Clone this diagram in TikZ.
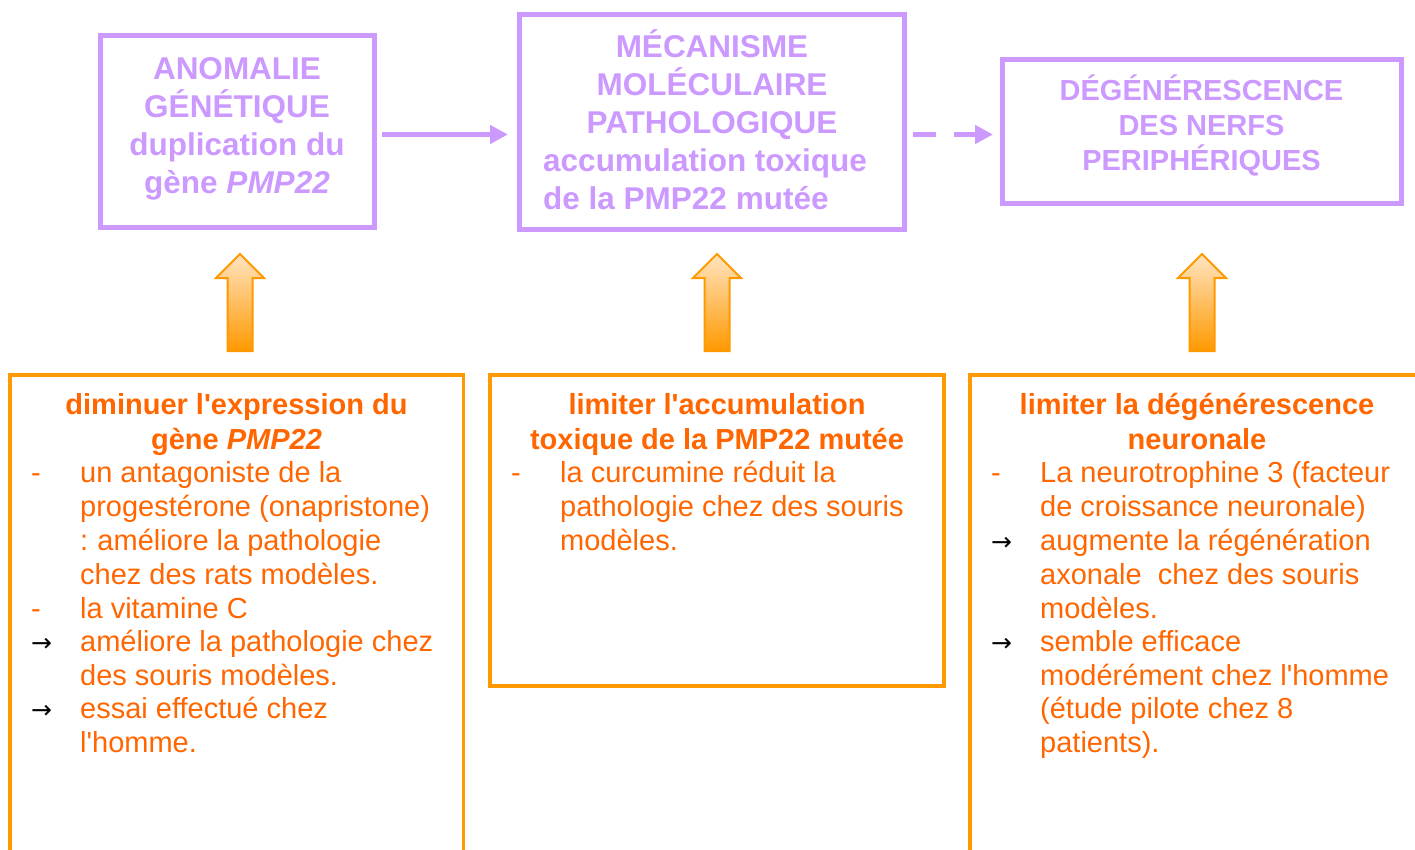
\documentclass[tikz,border=0pt]{standalone}
\usepackage{fontspec}
\setmainfont{Liberation Sans}
\newfontfamily\arrowfont{DejaVu Sans}
\usetikzlibrary{arrows.meta}
\definecolor{pur}{HTML}{CC99FF}
\definecolor{orb}{HTML}{FF9900}
\definecolor{ort}{HTML}{FF6600}
\definecolor{orl}{HTML}{FFE4C0}
\newcommand\ap{\textquotesingle}
\begin{document}
\begin{tikzpicture}[x=1pt,y=-1pt,
  pbox/.style={draw=pur,line width=5pt,inner sep=0pt},
  ptxt/.style={text=pur,inner sep=0pt,anchor=base,font=\bfseries\fontsize{31.5}{38}\selectfont},
  ptxtS/.style={text=pur,inner sep=0pt,anchor=base,font=\bfseries\fontsize{29}{35}\selectfont},
  obox/.style={draw=orb,line width=3.5pt},
  ohead/.style={text=ort,inner sep=0pt,anchor=base,font=\bfseries\fontsize{29}{35}\selectfont},
  obody/.style={text=ort,inner sep=0pt,anchor=base west,font=\fontsize{29}{34}\selectfont},
  dashmk/.style={text=ort,inner sep=0pt,anchor=base west,font=\fontsize{29}{34}\selectfont},
  arrmk/.style={text=black,inner sep=0pt,anchor=base west,font=\arrowfont\fontsize{25}{26}\selectfont},
  parrow/.style={draw=pur,line width=5pt,-{Triangle[length=18pt,width=18pt]}},
  uparrow/.style={draw=orb,line width=2pt,top color=orl,bottom color=orb,line join=miter}
]
\useasboundingbox (0,0) rectangle (1415,850);
\fill[white] (0,0) rectangle (1415,850);

% ---------- top boxes ----------
\node[pbox,minimum width=273.5pt,minimum height=192pt] (b1) at (237.25,131.5) {};
\node[pbox,minimum width=385pt,minimum height=215pt] (b2) at (712,122) {};
\node[pbox,minimum width=399pt,minimum height=144pt] (b3) at (1201.5,132) {};

\node[ptxt] (t11) at (237,79.5) {ANOMALIE};
\node[ptxt] (t12) at (237,117.5) {GÉNÉTIQUE};
\node[ptxt] (t13) at (237,155.5) {duplication du};
\node[ptxt] (t14) at (237,194) {gène \textit{PMP22}};

\node[ptxt] (t21) at (712,58) {MÉCANISME};
\node[ptxt] (t22) at (712,96) {MOLÉCULAIRE};
\node[ptxt] (t23) at (712,134) {PATHOLOGIQUE};
\node[ptxt,anchor=base west] (t24) at (543,172) {accumulation toxique};
\node[ptxt,anchor=base west] (t25) at (543,210) {de la PMP22 mutée};

\node[ptxtS] (t31) at (1201.5,101) {DÉGÉNÉRESCENCE};
\node[ptxtS] (t32) at (1201.5,136) {DES NERFS};
\node[ptxtS] (t33) at (1201.5,171) {PERIPHÉRIQUES};

% ---------- horizontal connectors ----------
\coordinate (ay) at (0,134.5);
\draw[parrow,shorten <=5.5pt,shorten >=9pt] (b1.east |- ay) -- (b2.west |- ay);
\draw[parrow,dash pattern=on 23pt off 18pt,shorten <=6pt,shorten >=6.5pt] (b2.east |- ay) -- (b3.west |- ay);

% ---------- up arrows ----------
\foreach \cx/\nm in {240/u1,717/u2,1202/u3}{
  \shadedraw[uparrow] (\cx,254) -- (\cx+24,278) -- (\cx+12.5,278) -- (\cx+12.5,351)
     -- (\cx-12.5,351) -- (\cx-12.5,278) -- (\cx-24,278) -- cycle;
}

% ---------- bottom boxes ----------
\draw[obox] (10,860) -- (10,375) -- (463.5,375) -- (463.5,860);
\node[obox,minimum width=454pt,minimum height=311pt,inner sep=0pt] (m2) at (717,530.5) {};
\draw[obox] (970,860) -- (970,375) -- (1425,375);

% left box
\node[ohead] (h11) at (236.5,414) {diminuer l\ap expression du};
\node[ohead] (h12) at (236.5,449) {gène \textit{PMP22}};
\foreach \yy/\tx [count=\i] in {
  482/{un antagoniste de la},
  516/{progestérone (onapristone)},
  550/{:\hspace{-1.5pt} améliore la pathologie},
  584/{chez des rats modèles.},
  618/{la vitamine C},
  651/{améliore la pathologie chez},
  685/{des souris modèles.},
  718/{essai effectué chez},
  752/{l\ap homme.}}{
  \node[obody] (l\i) at (80,\yy) {\tx};
}
\node[dashmk] (ld1) at (31,482) {-};
\node[dashmk] (ld2) at (31,618) {-};
\node[arrmk] (la1) at (31,651) {→};
\node[arrmk] (la2) at (31,718) {→};

% middle box
\node[ohead] (h21) at (717,414) {limiter l\ap accumulation};
\node[ohead] (h22) at (717,449) {toxique de la PMP22 mutée};
\foreach \yy/\tx [count=\i] in {
  482/{la curcumine réduit la},
  516/{pathologie chez des souris},
  550/{modèles.}}{
  \node[obody] (m\i) at (560,\yy) {\tx};
}
\node[dashmk] (md1) at (511,482) {-};

% right box
\node[ohead] (h31) at (1197,414) {limiter la dégénérescence};
\node[ohead] (h32) at (1197,449) {neuronale};
\foreach \yy/\tx [count=\i] in {
  482/{La neurotrophine 3 (facteur},
  516/{de croissance neuronale)},
  550/{augmente la régénération},
  584/{axonale~ chez des souris},
  618/{modèles.},
  651/{semble efficace},
  685/{modérément chez l\ap homme},
  718/{(étude pilote chez 8},
  752/{patients).}}{
  \node[obody] (r\i) at (1040,\yy) {\tx};
}
\node[dashmk] (rd1) at (991,482) {-};
\node[arrmk] (ra1) at (991,550) {→};
\node[arrmk] (ra2) at (991,651) {→};
\end{tikzpicture}
\end{document}
